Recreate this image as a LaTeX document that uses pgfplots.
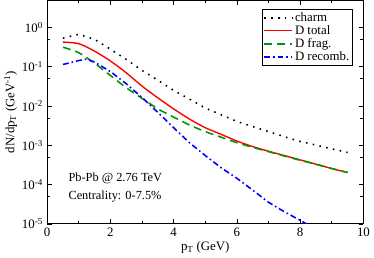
\documentclass[border=0pt]{standalone}
\usepackage{fontspec}
\setmainfont{Liberation Serif}
\usepackage{pgfplots}
\pgfplotsset{compat=1.18}
\definecolor{dgreen}{RGB}{0,150,0}
\begin{document}
\fontsize{12.5}{14}\selectfont
\begin{tikzpicture}
\begin{semilogyaxis}[
  scale only axis,
  width=320pt, height=226pt,
  xmin=0, xmax=10, ymin=1e-5, ymax=4.9,
  xtick={0,2,4,6,8,10},
  minor xtick={1,3,5,7,9},
  ytick={1e-5,1e-4,1e-3,1e-2,1e-1,1},
  yticklabels={10\textsuperscript{-5},10\textsuperscript{-4},10\textsuperscript{-3},10\textsuperscript{-2},10\textsuperscript{-1},10\textsuperscript{0}},
  minor ytick={5e-5,5e-4,5e-3,5e-2,0.5},
  xticklabels={0,2,4,6,8,10},
  tick align=inside,
  major tick length=5pt,
  minor tick length=3pt,
  tick style={black, line width=0.8pt},
  axis line style={line width=1pt},
  xlabel={p\textsubscript{T} (GeV)},
  ylabel={dN/dp\textsubscript{T} (GeV\textsuperscript{-1})},
  xlabel style={at={(axis description cs:0.5,0)}, anchor=north, yshift=-14pt, font=\fontsize{13}{14}\selectfont},
  ylabel style={at={(axis description cs:0,0.5)}, anchor=south, xshift=0pt, yshift=26pt, font=\fontsize{13}{14}\selectfont},
  tick label style={font=\fontsize{13}{14}\selectfont},
  legend style={at={(rel axis cs:0.966,0.962)}, anchor=north east, draw=black, line width=1pt,
    font=\fontsize{13}{14}\selectfont, inner sep=1pt, row sep=-1.8pt, cells={anchor=west}},
  legend image code/.code={\draw[#1] (0cm,0cm) -- (1cm,0cm);},
  clip=true,
]
\addplot[black, line width=1.6pt, dash pattern=on 1.6pt off 5.4pt] coordinates {
(0.5,0.537) (1.0,0.676) (1.5,0.501) (2.0,0.282) (2.5,0.155) (3.0,0.0813) (3.5,0.0457)
(4.0,0.0251) (4.5,0.0151) (5.0,0.00891) (5.5,0.00603) (6.0,0.00407) (6.5,0.00302)
(7.0,0.00224) (7.5,0.00166) (8.0,0.00126) (8.5,0.00102) (9.0,8.13e-4) (9.5,6.61e-4)};
\addlegendentry{charm}
\addplot[red, line width=1.4pt, smooth] coordinates {
(0.5,0.427) (1.0,0.389) (1.5,0.251) (2.0,0.141) (2.5,0.0708) (3.0,0.0324) (3.5,0.0162)
(4.0,0.00851) (4.5,0.00468) (5.0,0.00282) (5.5,0.00191) (6.0,0.00129) (6.5,9.33e-4)
(7.0,7.08e-4) (7.5,5.50e-4) (8.0,4.27e-4) (8.5,3.31e-4) (9.0,2.57e-4) (9.5,2.04e-4)};
\addlegendentry{D total}
\addplot[dgreen, line width=1.6pt, dash pattern=on 8pt off 5pt, smooth] coordinates {
(0.5,0.316) (1.0,0.229) (1.5,0.123) (2.0,0.0603) (2.5,0.0295) (3.0,0.0158) (3.5,0.00851)
(4.0,0.00525) (4.5,0.00331) (5.0,0.00224) (5.5,0.00162) (6.0,0.00117) (6.5,8.91e-4)
(7.0,6.92e-4) (7.5,5.37e-4) (8.0,4.17e-4) (8.5,3.31e-4) (9.0,2.57e-4) (9.5,2.04e-4)};
\addlegendentry{D frag.}
\addplot[blue, line width=1.6pt, dash pattern=on 6pt off 3pt on 1.6pt off 3pt] coordinates {
(0.5,0.115) (1.0,0.145) (1.25,0.158) (1.5,0.132) (2.0,0.0759) (2.5,0.0372) (3.0,0.0166)
(3.5,0.00692) (4.0,0.00282) (4.5,0.00117) (5.0,5.50e-4) (5.5,2.69e-4) (6.0,1.45e-4)
(6.5,7.24e-5) (7.0,3.55e-5) (7.5,2.04e-5) (8.0,1.23e-5) (8.2,1.0e-5)};
\addlegendentry{D recomb.}
\node[anchor=west] at (rel axis cs:0.054,0.204) {Pb-Pb @ 2.76 TeV};
\node[anchor=west] at (rel axis cs:0.054,0.124) {Centrality: 0-7.5\%};
\end{semilogyaxis}
\end{tikzpicture}
\end{document}
